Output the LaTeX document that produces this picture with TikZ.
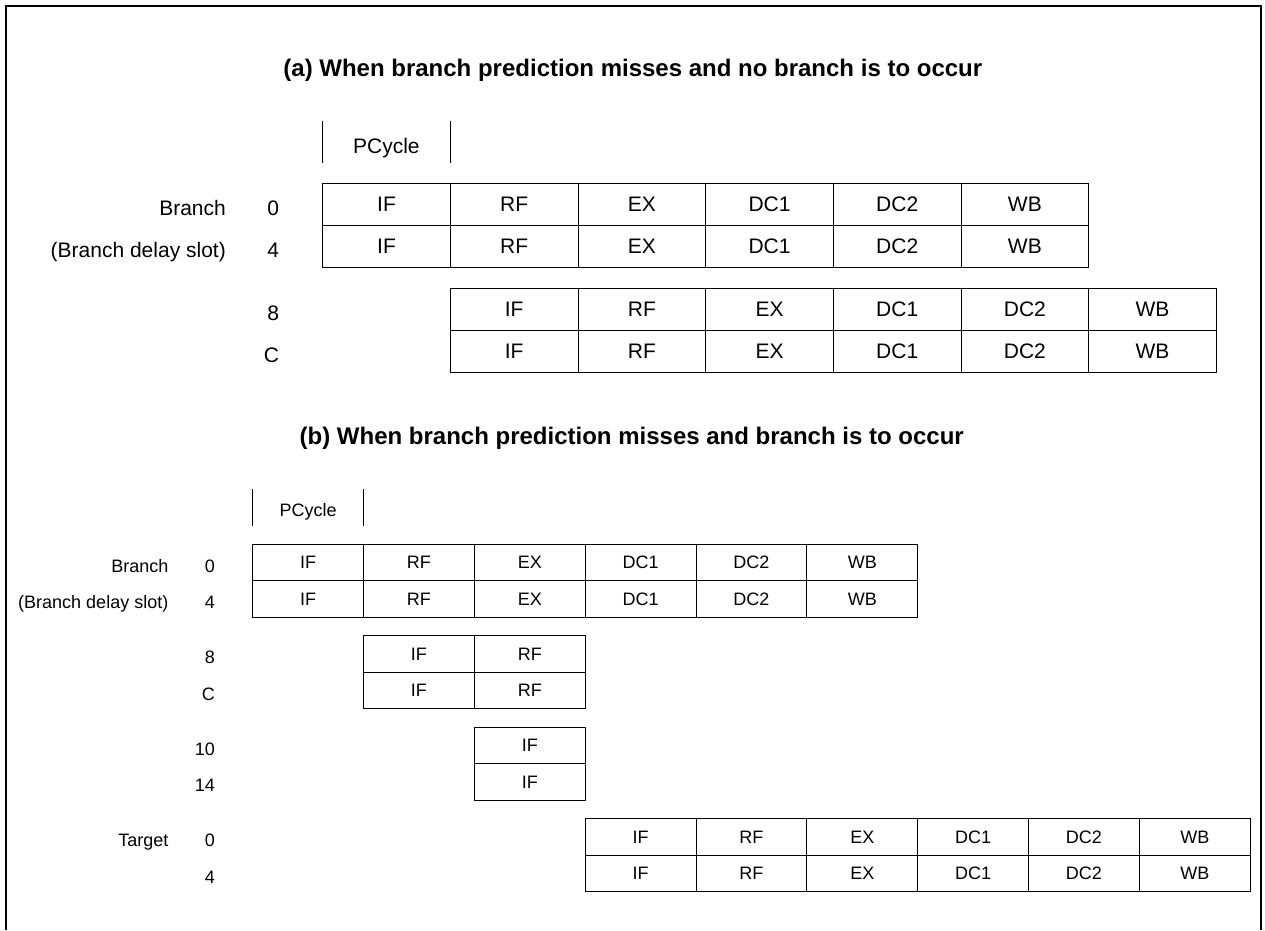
\documentclass[tikz,border=0pt]{standalone}
\usepackage{fontspec}
\setmainfont{Liberation Sans}

\tikzset{
  cella/.style={draw, line width=1pt, inner sep=0pt, minimum width=127.67pt, minimum height=42.2pt, font=\fontsize{21}{25}\selectfont},
  cellb/.style={draw, line width=1pt, inner sep=0pt, minimum width=110.83pt, minimum height=36.6pt, font=\fontsize{18}{22}\selectfont},
  laba/.style={anchor=base east, inner sep=0pt, font=\fontsize{21}{25}\selectfont},
  labb/.style={anchor=base east, inner sep=0pt, font=\fontsize{18}{22}\selectfont},
  heading/.style={anchor=base, inner sep=0pt, font=\fontsize{24}{29}\selectfont\bfseries},
  tick/.style={line width=1pt}
}

\begin{document}
\begin{tikzpicture}[x=1pt, y=-1pt]
  \useasboundingbox (0,0) rectangle (1265,930);
  \draw [line width=2pt] (5.5,930) -- (5.5,5.5) -- (1260.5,5.5) -- (1260.5,930);

  % (a) no branch
  \node [heading] (ta) at (632.8,76) {(a) When branch prediction misses and no branch is to occur};
  \draw [tick] (322.7,121) -- (322.7,163.3);
  \draw [tick] (450,121) -- (450,163.3);
  \node [laba, anchor=base] (pca) at (386.4,153.3) {PCycle};
  \foreach \id/\off/\y/\lbl in {0/0/204.4/0, 4/0/246.6/4, 8/1/309.4/8, C/1/351.6/C} {
    \node [laba] (an\id) at (279.3, \y+11.3) {\lbl};
    \foreach \s [count=\i] in {IF,RF,EX,DC1,DC2,WB}
      \node [cella] (a\id-\i) at ({322.7+127.67*(\off+\i-0.5)}, \y) {\s};
  }
  \node [laba] (abr) at (226,215.7) {Branch};
  \node [laba] (ads) at (226,257.9) {(Branch delay slot)};

  % (b) branch taken
  \node [heading] (tb) at (631.7,444) {(b) When branch prediction misses and branch is to occur};
  \draw [tick] (252.7,489) -- (252.7,525.7);
  \draw [tick] (363.5,489) -- (363.5,525.7);
  \node [labb, anchor=base] (pcb) at (308.1,516.7) {PCycle};
  \foreach \id/\off/\n/\y/\lbl in {b0/0/6/562.3/0, b4/0/6/598.9/4, b8/1/2/653.8/8, bC/1/2/690.4/C,
      b10/2/1/745.3/10, b14/2/1/781.9/14, t0/3/6/836.8/0, t4/3/6/873.4/4} {
    \node [labb] (n\id) at (215, \y+9.8) {\lbl};
    \foreach \s [count=\i] in {IF,RF,EX,DC1,DC2,WB} {
      \ifnum\i>\n\relax\else
        \node [cellb] (\id-\i) at ({252.7+110.83*(\off+\i-0.5)}, \y) {\s};
      \fi
    }
  }
  \node [labb] (bbr) at (168.5,572.1) {Branch};
  \node [labb] (bds) at (168.5,608.7) {(Branch delay slot)};
  \node [labb] (btg) at (168.5,846.6) {Target};
\end{tikzpicture}
\end{document}
